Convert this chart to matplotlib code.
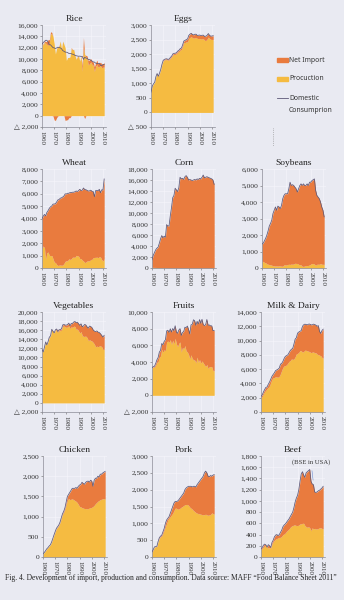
import matplotlib
matplotlib.use('Agg')
import matplotlib.pyplot as plt
import matplotlib.ticker as ticker
from matplotlib.patches import Rectangle
from matplotlib.lines import Line2D
import numpy as np

# 1000 t, 1960 .. 2011
years = np.arange(1960, 2012)

rice_prod = [12858, 12419, 13009, 12812, 12584, 12409, 12745, 14453, 14449, 14003,
             12689, 10887, 11897, 12149, 12292, 13165, 11772, 13095, 12589, 11958,
             9751, 10259, 10270, 10366, 11878, 11662, 11647, 10627, 9935, 10347,
             10499, 9604, 10573, 7834, 11981, 10748, 10344, 10025, 8960, 9175,
             9490, 9057, 8889, 7792, 8730, 8998, 8556, 8714, 8823, 8474,
             8554, 8566]
rice_imp = [200, 100, 200, 250, 500, 1000, 650, 350, 250, -50,
            -750, -850, -350, -50, 50, 0, 0, 50, 0, -850,
            -750, -700, -350, -350, 150, 20, 40, 40, 40, 50,
            50, 50, 50, 1000, 1800, -500, 300, 500, 700, 700,
            600, 500, 600, 800, 600, 800, 600, 600, 600, 650,
            600, 800]
rice_cons = [12618, 12900, 13100, 13300, 13300, 12993, 12502, 12503, 12251, 12020,
             11948, 11859, 11948, 12078, 12032, 11964, 11819, 11483, 11364, 11218,
             11209, 11130, 10988, 10979, 10938, 10849, 10796, 10647, 10584, 10527,
             10484, 10513, 10452, 10476, 9936, 10290, 10181, 10105, 9905, 9905,
             9790, 9638, 9490, 9456, 9269, 9222, 9186, 9257, 8883, 8797,
             9018, 9018]

eggs_prod = [696, 897, 981, 1030, 1224, 1330, 1230, 1340, 1464, 1639,
             1766, 1800, 1811, 1815, 1793, 1807, 1861, 1906, 1977, 1993,
             1992, 2016, 2068, 2092, 2145, 2160, 2272, 2394, 2402, 2423,
             2420, 2536, 2576, 2601, 2563, 2549, 2564, 2573, 2536, 2539,
             2535, 2519, 2529, 2525, 2475, 2469, 2514, 2587, 2535, 2508,
             2506, 2495]
eggs_imp = [0, 0, 0, 0, 0, 5, 10, 10, 15, 15,
            20, 20, 25, 25, 25, 30, 30, 30, 35, 35,
            40, 40, 40, 45, 45, 50, 55, 60, 70, 80,
            100, 110, 110, 115, 110, 110, 120, 110, 105, 110,
            120, 120, 120, 125, 130, 150, 130, 120, 110, 110,
            115, 140]

wheat_prod = [1531, 1781, 1631, 716, 1244, 1287, 1024, 997, 1012, 758,
              474, 440, 284, 202, 232, 241, 222, 236, 367, 541,
              583, 587, 742, 695, 741, 874, 876, 864, 1021, 985,
              952, 759, 759, 638, 565, 444, 478, 573, 570, 583,
              688, 700, 829, 856, 860, 875, 837, 910, 881, 674,
              571, 746]
wheat_imp = [2450, 2400, 2700, 3500, 3250, 3350, 3800, 3950, 4000, 4400,
             4700, 4750, 5050, 5300, 5300, 5400, 5450, 5500, 5450, 5450,
             5400, 5450, 5300, 5400, 5350, 5250, 5250, 5300, 5200, 5200,
             5300, 5600, 5500, 5650, 5900, 5900, 5850, 5700, 5650, 5650,
             5600, 5500, 5350, 4900, 5400, 5400, 5400, 5450, 5200, 5650,
             5730, 6450]

corn_prod = [113, 116, 104, 104, 84, 75, 63, 61, 51, 40,
             33, 25, 23, 14, 13, 14, 12, 8, 7, 5,
             4, 3, 2, 2, 2, 2, 2, 1, 1, 1,
             1, 1, 1, 1, 1, 0, 0, 0, 0, 0,
             0, 0, 0, 0, 0, 0, 0, 0, 0, 0,
             0, 0]
corn_imp = [1387, 2184, 2696, 3196, 3516, 3725, 4437, 5239, 5849, 5460,
            5767, 5575, 7877, 7586, 7687, 9486, 10988, 12792, 13193, 14495,
            14196, 13897, 14598, 16498, 16198, 16298, 16098, 16599, 16799, 16499,
            15999, 16099, 15999, 15899, 15999, 16100, 16000, 16200, 16100, 16300,
            16200, 16500, 16900, 16400, 16500, 16600, 16500, 16400, 16300, 16200,
            16000, 15200]

soy_prod = [418, 387, 336, 318, 240, 230, 199, 190, 168, 136,
            126, 122, 127, 118, 133, 126, 110, 111, 190, 192,
            174, 212, 226, 217, 238, 228, 245, 287, 277, 272,
            220, 197, 188, 101, 99, 119, 148, 145, 158, 187,
            235, 271, 270, 232, 163, 225, 229, 227, 262, 230,
            223, 219]
soy_imp = [1032, 1113, 1314, 1482, 1760, 2020, 2351, 2510, 2732, 3164,
           3374, 3578, 3373, 3632, 3567, 3474, 3690, 4089, 4210, 4308,
           4326, 4288, 4574, 4983, 4762, 4822, 4755, 4613, 4523, 4328,
           4580, 4803, 4912, 4899, 5001, 4881, 4852, 4955, 4842, 5013,
           4965, 5029, 5080, 5168, 4537, 4175, 4071, 3973, 3738, 3470,
           3277, 2881]

veg_prod = [11742, 11195, 12245, 13397, 12748, 13483, 14403, 14686, 16125, 15694,
            15328, 15981, 16110, 15510, 15904, 15880, 16059, 16865, 16914, 16711,
            16634, 16739, 16992, 16355, 16781, 16607, 16894, 16815, 16169, 16258,
            15845, 15364, 15697, 14850, 14615, 14671, 14677, 14364, 13700, 13902,
            13704, 13604, 13299, 12905, 12344, 12492, 12356, 12527, 12554, 12344,
            11730, 11821]
veg_imp = [15, 10, 10, 15, 30, 30, 50, 60, 70, 80,
           98, 100, 150, 200, 200, 230, 250, 300, 350, 400,
           495, 500, 550, 600, 700, 866, 900, 1100, 1500, 1500,
           1550, 1700, 1700, 1900, 2300, 2600, 2450, 2350, 2750, 3000,
           3100, 2950, 2750, 2900, 3350, 3350, 3200, 2950, 2650, 2500,
           2750, 3050]

fruit_prod = [3307, 3393, 3387, 3573, 3950, 4034, 4578, 4714, 5520, 5174,
              5467, 5364, 6435, 6515, 6356, 6686, 6096, 6621, 6173, 6848,
              6196, 5843, 6239, 6402, 5183, 5747, 5552, 5974, 5331, 5210,
              4895, 4366, 4858, 4411, 4267, 4242, 3900, 4587, 3957, 4289,
              3847, 4126, 3893, 3674, 3464, 3703, 3215, 3444, 3436, 3441,
              2960, 2954]
fruit_imp = [0, 50, 100, 250, 300, 500, 600, 700, 700, 900,
             1000, 1300, 1300, 1300, 1200, 1300, 1500, 1400, 1600, 1500,
             1400, 1600, 1600, 1600, 2000, 1800, 2100, 2200, 2800, 3100,
             3000, 3000, 3600, 4100, 4800, 4700, 4500, 4300, 4600, 4800,
             4800, 5000, 4600, 4700, 5000, 5400, 5200, 5000, 4900, 4900,
             4800, 4850]

milk_prod = [1939, 2180, 2526, 2837, 3053, 3271, 3431, 3663, 4140, 4575,
             4789, 4841, 4944, 4898, 4876, 5008, 5369, 5846, 6256, 6464,
             6498, 6612, 6848, 7086, 7200, 7436, 7360, 7428, 7717, 8134,
             8203, 8343, 8617, 8550, 8388, 8467, 8659, 8629, 8549, 8513,
             8414, 8312, 8380, 8405, 8284, 8293, 8091, 8024, 7946, 7881,
             7631, 7534]
milk_imp = [237, 220, 274, 313, 397, 237, 469, 537, 460, 425,
            469, 659, 856, 1002, 1124, 1152, 1331, 954, 844, 1036,
            1299, 1288, 1152, 1214, 1400, 1349, 1540, 2072, 2483, 2266,
            2833, 2857, 2683, 2850, 3612, 3744, 3641, 3621, 3651, 3787,
            3895, 3888, 3820, 3895, 3966, 3871, 3909, 4076, 3354, 3119,
            3769, 4066]

chicken_prod = [80, 110, 150, 200, 230, 270, 300, 360, 450, 540,
                620, 700, 740, 780, 850, 950, 1050, 1100, 1180, 1300,
                1400, 1450, 1420, 1430, 1440, 1420, 1400, 1380, 1350, 1300,
                1250, 1240, 1220, 1210, 1200, 1200, 1190, 1200, 1210, 1220,
                1230, 1250, 1280, 1320, 1350, 1380, 1400, 1420, 1430, 1440,
                1450, 1430]
chicken_imp = [0, 0, 0, 0, 0, 0, 0, 5, 5, 5,
               10, 10, 10, 15, 15, 20, 20, 30, 40, 60,
               100, 100, 180, 220, 260, 280, 300, 340, 350, 450,
               530, 560, 630, 610, 600, 650, 680, 680, 640, 680,
               650, 500, 620, 630, 600, 620, 580, 630, 620, 640,
               650, 690]

pork_prod = [150, 200, 300, 300, 310, 450, 550, 600, 620, 700,
             800, 900, 1000, 1100, 1150, 1200, 1250, 1300, 1380, 1450,
             1450, 1420, 1430, 1450, 1480, 1500, 1530, 1550, 1560, 1560,
             1530, 1480, 1450, 1420, 1380, 1350, 1320, 1300, 1290, 1280,
             1270, 1260, 1250, 1260, 1270, 1250, 1240, 1250, 1260, 1310,
             1290, 1270]
pork_imp = [0, 20, 0, 10, 10, 10, 20, 20, 30, 50,
            50, 100, 100, 50, 50, 100, 150, 200, 220, 200,
            200, 240, 270, 300, 320, 350, 370, 450, 490, 520,
            570, 620, 650, 660, 720, 750, 760, 850, 910, 970,
            1030, 1090, 1150, 1240, 1280, 1250, 1160, 1130, 1160, 1090,
            1140, 1180]

beef_prod = [140, 150, 180, 200, 210, 170, 160, 170, 160, 230,
             270, 300, 320, 330, 340, 350, 350, 370, 400, 410,
             430, 460, 480, 500, 530, 550, 560, 570, 570, 560,
             560, 570, 590, 590, 600, 600, 560, 540, 530, 540,
             520, 470, 520, 500, 510, 500, 500, 510, 520, 520,
             510, 500]
beef_imp = [5, 20, 30, 30, 5, 5, 60, 30, 10, 30,
            30, 60, 70, 70, 40, 50, 90, 110, 140, 160,
            160, 160, 170, 180, 190, 210, 240, 310, 410, 490,
            540, 630, 760, 890, 920, 860, 860, 960, 990, 1000,
            1040, 880, 780, 790, 650, 650, 660, 670, 670, 690,
            720, 760]

BG = '#e9eaf2'
C_IMP = '#e97b3e'
C_PROD = '#f5bb41'
C_LINE = '#5d5878'
W, H = 344.0, 600.0

plt.rcParams['font.family'] = ['Liberation Serif', 'DejaVu Sans']

fig = plt.figure(figsize=(3.44, 6.0), dpi=100, facecolor=BG)


def fmt_tick(v, pos):
    v = int(round(v))
    if v < 0:
        return '△ ' + format(-v, ',')
    return format(v, ',')


def draw_panel(title, prod, imp, cons, yrange, left, top, h):
    ax = fig.add_axes([left / W, 1 - (top + h) / H, 64 / W, h / H])
    ax.set_facecolor(BG)
    prod = np.array(prod, dtype=float)
    imp = np.array(imp, dtype=float)
    pos_imp = np.clip(imp, 0, None)
    neg_imp = np.clip(imp, None, 0)
    ax.fill_between(years, 0, prod, color=C_PROD, lw=0, zorder=2)
    ax.fill_between(years, prod, prod + pos_imp, color=C_IMP, lw=0, zorder=2)
    if neg_imp.min() < 0:
        ax.fill_between(years, 0, neg_imp, color=C_IMP, lw=0, zorder=2)
    if cons is None:
        cons = prod + imp
    ax.plot(years, cons, color=C_LINE, lw=0.55, zorder=3)

    ymin, ymax, step = yrange
    ax.set_xlim(1960, 2012.5)
    ax.set_ylim(ymin, ymax)
    ax.set_xticks(range(1960, 2011, 10))
    ax.set_xticklabels([str(y) for y in range(1960, 2011, 10)], rotation=-90, fontsize=5.0)
    ax.set_yticks(np.arange(ymin, ymax + 1, step))
    ax.yaxis.set_major_formatter(ticker.FuncFormatter(fmt_tick))
    ax.tick_params(axis='y', labelsize=5.4)
    ax.tick_params(length=1.5, width=0.4, pad=1.2, colors='#666', labelcolor='#333')

    ax.grid(True, color='#f6f6fb', lw=0.4, zorder=0)
    ax.set_axisbelow(True)
    for s in ['top', 'right']:
        ax.spines[s].set_visible(False)
    for s in ['left', 'bottom']:
        ax.spines[s].set_color('#8a8a95')
        ax.spines[s].set_linewidth(0.5)

    ax.set_title(title, fontsize=6.8, pad=3, color='#222')
    return ax


draw_panel('Rice', rice_prod, rice_imp, rice_cons, (-2000, 16000, 2000), 42, 25, 102)
draw_panel('Eggs', eggs_prod, eggs_imp, None, (-500, 3000, 500), 151, 25, 102)
draw_panel('Wheat', wheat_prod, wheat_imp, None, (0, 8000, 1000), 42, 169, 99)
draw_panel('Corn', corn_prod, corn_imp, None, (0, 18000, 2000), 152, 169, 99)
draw_panel('Soybeans', soy_prod, soy_imp, None, (0, 6000, 1000), 262, 169, 99)
draw_panel('Vegetables', veg_prod, veg_imp, None, (-2000, 20000, 2000), 42, 312, 100)
draw_panel('Fruits', fruit_prod, fruit_imp, None, (-2000, 10000, 2000), 152, 312, 100)
draw_panel('Milk & Dairy', milk_prod, milk_imp, None, (0, 14000, 2000), 261, 312, 100)
draw_panel('Chicken', chicken_prod, chicken_imp, None, (0, 2500, 500), 43, 456, 101)
draw_panel('Pork', pork_prod, pork_imp, None, (0, 3000, 500), 152, 456, 101)
ax_beef = draw_panel('Beef', beef_prod, beef_imp, None, (0, 1800, 200), 261, 456, 101)

ax_beef.annotate('(BSE in USA)', xy=(2003, 1320), xytext=(2001, 1690),
                 fontsize=4.8, ha='center', va='center', color='#333',
                 annotation_clip=False,
                 arrowprops=dict(arrowstyle='-', color='#6a8bd0', lw=0.4))

# legend, placed by hand in the empty top-right slot
fig.add_artist(Rectangle((277 / W, 1 - 62 / H), 11 / W, 3.5 / H, color=C_IMP,
                         transform=fig.transFigure))
fig.text(289 / W, 1 - 60 / H, 'Net Import', fontsize=4.9, family='Noto Sans',
         va='center', color='#333')
fig.add_artist(Rectangle((277 / W, 1 - 81 / H), 11 / W, 3.5 / H, color=C_PROD,
                         transform=fig.transFigure))
fig.text(289 / W, 1 - 79 / H, 'Procuction', fontsize=4.9, family='Noto Sans',
         va='center', color='#333')
fig.add_artist(Line2D([277 / W, 288 / W], [1 - 98 / H, 1 - 98 / H], color=C_LINE,
                      lw=0.6, transform=fig.transFigure))
fig.text(289 / W, 1 - 98 / H, 'Domestic', fontsize=4.9, family='Noto Sans',
         va='center', color='#333')
fig.text(289 / W, 1 - 110 / H, 'Consumprion', fontsize=4.9, family='Noto Sans',
         va='center', color='#333')
fig.add_artist(Line2D([273 / W, 273 / W], [1 - 128 / H, 1 - 146 / H], color='#888',
                      lw=0.5, ls=':', transform=fig.transFigure))

fig.text(5 / W, 1 - 578 / H,
         'Fig. 4. Development of import, production and consumption. '
         'Data source: MAFF \u201cFood Balance Sheet 2011\u201d',
         fontsize=5.45, ha='left', va='center', color='#222')

fig.savefig('out.png', dpi=100, facecolor=BG)
